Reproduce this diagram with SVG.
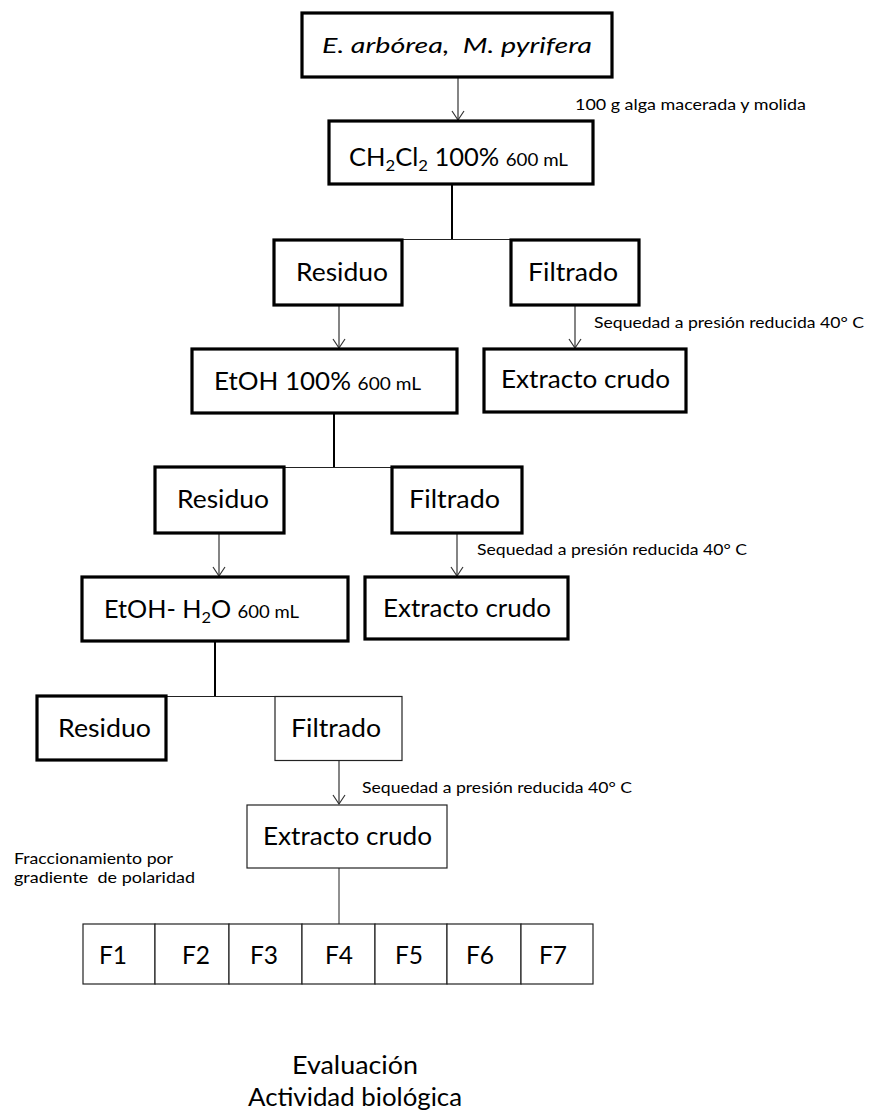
<svg xmlns="http://www.w3.org/2000/svg" width="869" height="1113" viewBox="0 0 869 1113">
<style>
text{font-family:Lato,"Liberation Sans",sans-serif;fill:#000}
.big{font-size:24.5px}
.sm{font-size:16px}
.ml{font-size:18px}
.thick{fill:#fff;stroke:#000;stroke-width:3.2}
.thin{fill:#fff;stroke:#222;stroke-width:1.2}
.stem{stroke:#000;stroke-width:2;fill:none}
.bar{stroke:#222;stroke-width:1;fill:none}
.arr{stroke:#333;stroke-width:1.2;fill:none;marker-end:url(#v)}
</style>
<defs>
<marker id="v" markerUnits="userSpaceOnUse" markerWidth="12" markerHeight="14" refX="10" refY="7" orient="auto" overflow="visible">
<path d="M1,1 L10,7 L1,13" fill="none" stroke="#333" stroke-width="1.2"/>
</marker>
</defs>
<g id="connectors">
<line class="arr" x1="458" y1="77" x2="458" y2="120"/>
<line class="stem" x1="452" y1="184" x2="452" y2="239.5"/>
<line class="bar" x1="339" y1="239.5" x2="575" y2="239.5"/>
<line class="arr" x1="339" y1="305" x2="339" y2="348"/>
<line class="arr" x1="575" y1="305" x2="575" y2="348"/>
<line class="stem" x1="334" y1="413" x2="334" y2="467.5"/>
<line class="bar" x1="219" y1="467.5" x2="457" y2="467.5"/>
<line class="arr" x1="219" y1="533" x2="219" y2="576"/>
<line class="arr" x1="457" y1="533" x2="457" y2="576"/>
<line class="stem" x1="215" y1="641" x2="215" y2="696.5"/>
<line class="bar" x1="101" y1="696.5" x2="300" y2="696.5"/>
<line class="arr" x1="339" y1="760" x2="339" y2="804"/>
<line class="bar" x1="339" y1="868" x2="339" y2="924"/>
</g>
<g id="n-source">
<rect class="thick" x="302" y="13" width="310" height="64"/>
<text x="322" y="53" font-size="21" font-style="italic" textLength="270" lengthAdjust="spacingAndGlyphs">E. arbórea,&#160; M. pyrifera</text>
</g>
<text class="sm" x="575" y="110" textLength="231" lengthAdjust="spacingAndGlyphs">100 g alga macerada y molida</text>
<g id="n-ch2cl2">
<rect class="thick" x="329" y="121" width="264" height="63"/>
<text class="big" x="349" y="166" textLength="219" lengthAdjust="spacingAndGlyphs">CH<tspan font-size="16" dy="5">2</tspan><tspan dy="-5">Cl</tspan><tspan font-size="16" dy="5">2</tspan><tspan dy="-5"> 100% </tspan><tspan font-size="18">600 mL</tspan></text>
</g>
<g id="n-residuo1">
<rect class="thick" x="274" y="240" width="128" height="65"/>
<text class="big" x="296" y="281" textLength="92" lengthAdjust="spacingAndGlyphs">Residuo</text>
</g>
<g id="n-filtrado1">
<rect class="thick" x="511" y="240" width="128" height="65"/>
<text class="big" x="528" y="281" textLength="90" lengthAdjust="spacingAndGlyphs">Filtrado</text>
</g>
<text class="sm" x="594" y="328" textLength="270" lengthAdjust="spacingAndGlyphs">Sequedad a presión reducida 40° C</text>
<g id="n-etoh">
<rect class="thick" x="192" y="349" width="265" height="64"/>
<text class="big" x="214" y="390" textLength="207" lengthAdjust="spacingAndGlyphs">EtOH 100%  <tspan font-size="18">600 mL</tspan></text>
</g>
<g id="n-extracto1">
<rect class="thick" x="484" y="349" width="202" height="63"/>
<text class="big" x="501" y="388" textLength="169" lengthAdjust="spacingAndGlyphs">Extracto crudo</text>
</g>
<g id="n-residuo2">
<rect class="thick" x="155" y="467" width="129" height="66"/>
<text class="big" x="177" y="508" textLength="92" lengthAdjust="spacingAndGlyphs">Residuo</text>
</g>
<g id="n-filtrado2">
<rect class="thick" x="392" y="467" width="130" height="66"/>
<text class="big" x="409" y="508" textLength="91" lengthAdjust="spacingAndGlyphs">Filtrado</text>
</g>
<text class="sm" x="477" y="555" textLength="270" lengthAdjust="spacingAndGlyphs">Sequedad a presión reducida 40° C</text>
<g id="n-etoh-h2o">
<rect class="thick" x="82" y="577" width="266" height="64"/>
<text class="big" x="104" y="618" textLength="195" lengthAdjust="spacingAndGlyphs">EtOH- H<tspan font-size="16" dy="5">2</tspan><tspan dy="-5">O </tspan><tspan font-size="18">600 mL</tspan></text>
</g>
<g id="n-extracto2">
<rect class="thick" x="365" y="577" width="203" height="62"/>
<text class="big" x="383" y="617" textLength="168" lengthAdjust="spacingAndGlyphs">Extracto crudo</text>
</g>
<g id="n-residuo3">
<rect class="thick" x="37" y="696" width="129" height="64"/>
<text class="big" x="58" y="737" textLength="93" lengthAdjust="spacingAndGlyphs">Residuo</text>
</g>
<g id="n-filtrado3">
<rect class="thin" x="275" y="696.5" width="127" height="64"/>
<text class="big" x="291" y="737" textLength="90" lengthAdjust="spacingAndGlyphs">Filtrado</text>
</g>
<text class="sm" x="362" y="793" textLength="270" lengthAdjust="spacingAndGlyphs">Sequedad a presión reducida 40° C</text>
<g id="n-extracto3">
<rect class="thin" x="247" y="805" width="200" height="63"/>
<text class="big" x="263" y="845" textLength="169" lengthAdjust="spacingAndGlyphs">Extracto crudo</text>
</g>
<text class="sm" x="14" y="864" textLength="159" lengthAdjust="spacingAndGlyphs">Fraccionamiento por</text>
<text class="sm" x="14" y="883" textLength="181" lengthAdjust="spacingAndGlyphs">gradiente&#160; de polaridad</text>
<g id="n-fracciones">
<rect class="thin" x="83" y="924" width="72" height="60"/>
<rect class="thin" x="155" y="924" width="74" height="60"/>
<rect class="thin" x="229" y="924" width="73" height="60"/>
<rect class="thin" x="302" y="924" width="73" height="60"/>
<rect class="thin" x="375" y="924" width="72" height="60"/>
<rect class="thin" x="447" y="924" width="74" height="60"/>
<rect class="thin" x="521" y="924" width="72" height="60"/>
<text class="big" x="113" y="964" text-anchor="middle">F1</text>
<text class="big" x="196" y="964" text-anchor="middle">F2</text>
<text class="big" x="264" y="964" text-anchor="middle">F3</text>
<text class="big" x="339" y="964" text-anchor="middle">F4</text>
<text class="big" x="409" y="964" text-anchor="middle">F5</text>
<text class="big" x="480" y="964" text-anchor="middle">F6</text>
<text class="big" x="553" y="964" text-anchor="middle">F7</text>
</g>
<text class="big" x="292" y="1074" textLength="126" lengthAdjust="spacingAndGlyphs">Evaluación</text>
<text class="big" x="248" y="1106" textLength="214" lengthAdjust="spacingAndGlyphs">Actividad biológica</text>
</svg>
